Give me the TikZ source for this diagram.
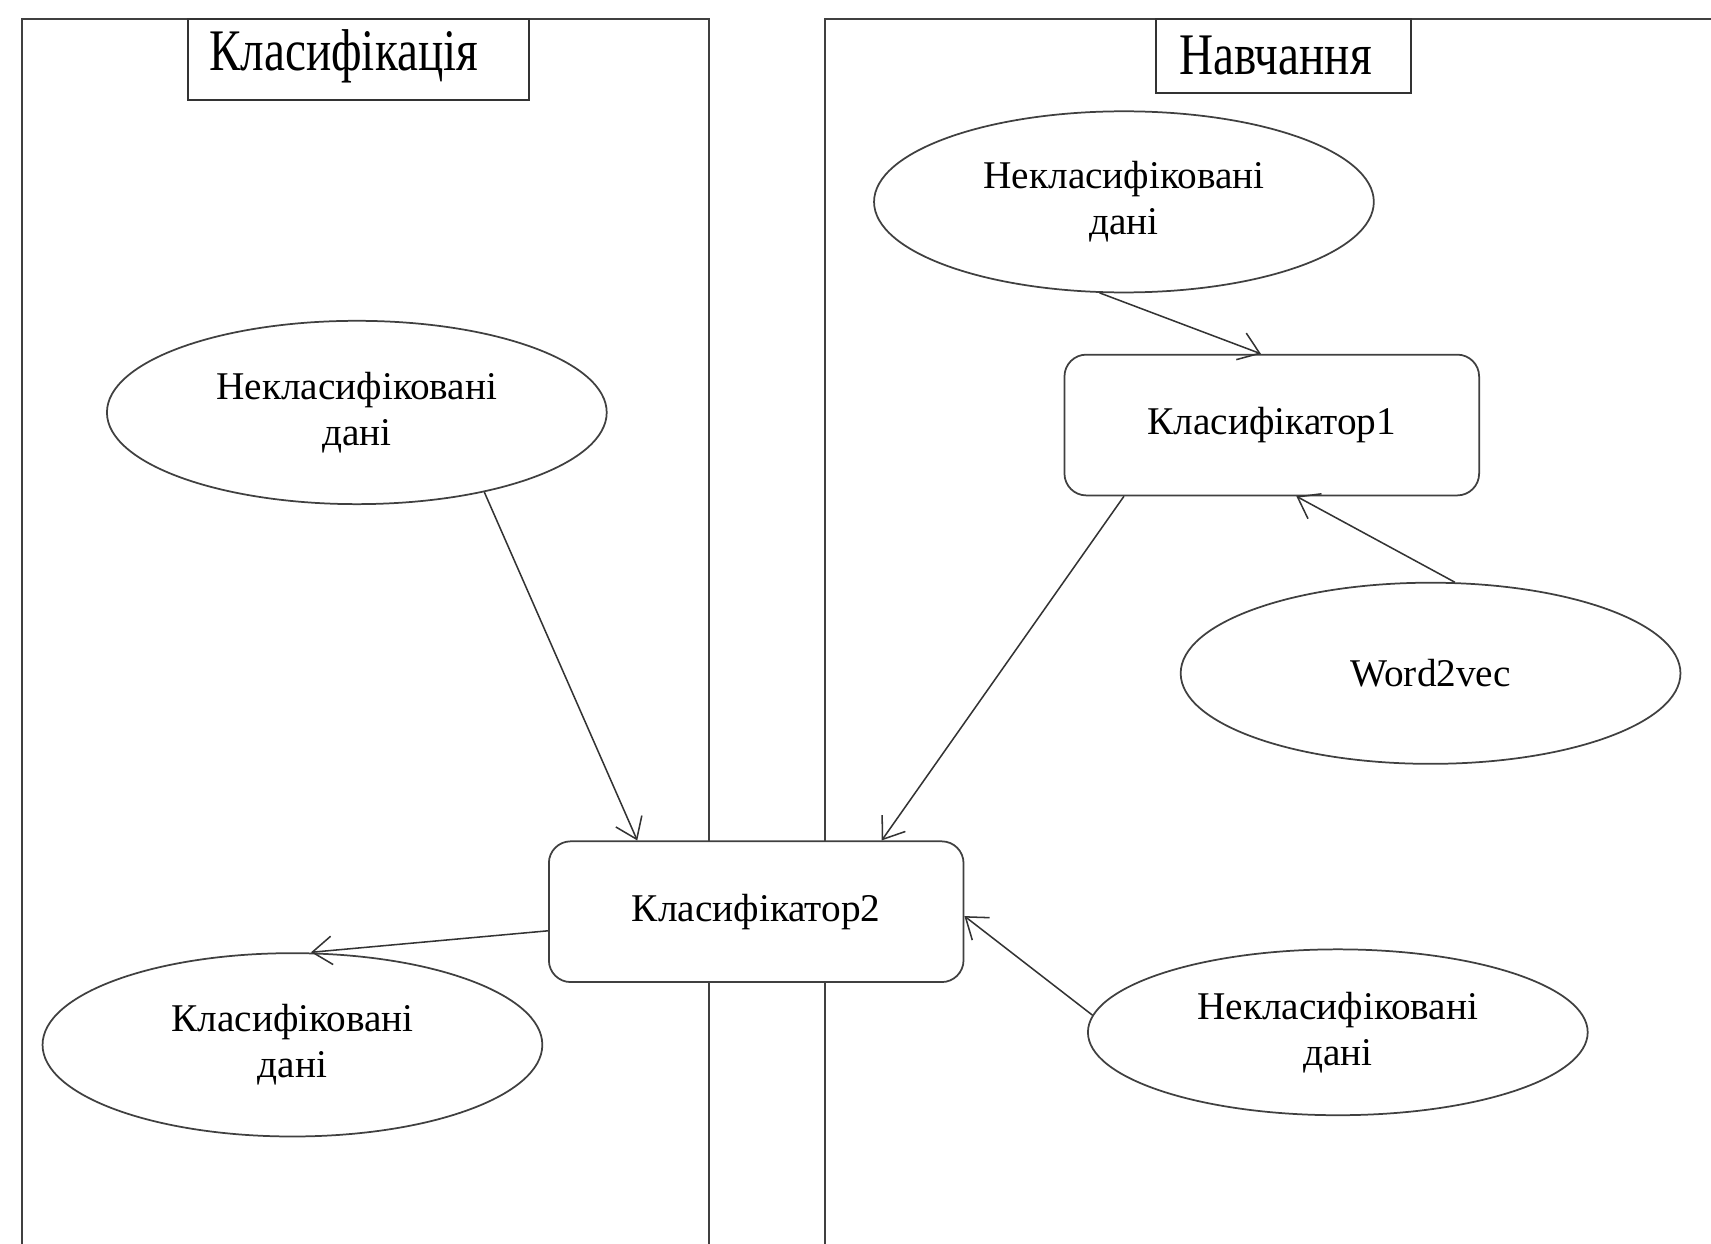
\documentclass[tikz,border=0pt]{standalone}
\usepackage{fontspec}
\setmainfont{Liberation Serif}
\usetikzlibrary{shapes.geometric,arrows.meta,calc}

\begin{document}
\begin{tikzpicture}[x=0.5pt,y=-0.5pt,
  lane/.style={draw=black!75, line width=0.9pt},
  title/.style={draw=black!80, fill=white, line width=0.9pt, inner sep=0pt},
  titletext/.style={font=\fontsize{27}{30}\selectfont, inner sep=0pt},
  data/.style={ellipse, draw=black!75, fill=white, line width=0.8pt,
    minimum width=229pt, minimum height=83pt, inner sep=0pt, align=center,
    font=\fontsize{18}{21}\selectfont},
  proc/.style={rectangle, rounded corners=10pt, draw=black!75, fill=white,
    line width=0.8pt, minimum width=190pt, minimum height=64.5pt, inner sep=0pt,
    font=\fontsize{18}{21}\selectfont},
  flow/.style={draw=black!80, line width=0.7pt,
    -{Straight Barb[length=9pt,width=13pt]}}
]
\useasboundingbox (0,0) rectangle (1568,1140);

% swimlanes
\draw[lane] (20,1140) -- (20,17) -- (650,17) -- (650,1140);
\draw[lane] (756,1140) -- (756,17) -- (1570,17);

% lane titles
\node[title, minimum width=156.5pt, minimum height=37.5pt] (tl) at (328.5,54.5) {};
\node[titletext] (tltext) at (315,52) {\scalebox{0.8}[1]{Класифікація}};
\node[title, minimum width=117pt, minimum height=34pt] (tr) at (1176,51) {};
\node[titletext] (trtext) at (1169,51) {\scalebox{0.8}[1]{Навчання}};

% training lane
\node[data] (e1) at (1030,185) {Некласифіковані\\дані};
\node[proc] (k1) at (1165.5,389.5) {Класифікатор1};
\node[data] (w2v) at (1311,617) {Word2vec};
\node[data, minimum height=76pt] (e3) at (1226,946) {Некласифіковані\\дані};

% classification lane
\node[data, minimum height=84pt] (e2) at (327,378) {Некласифіковані\\дані};
\node[data, minimum height=84pt] (e4) at (268,957.5) {Класифіковані\\дані};
\node[proc] (k2) at (693,835.5) {Класифікатор2};

% connectors
\draw[flow] (e1.255) -- ([xshift=-5pt]k1.north);
\draw[flow] (w2v.75.6) -- ([xshift=11.25pt]k1.south);
\draw[flow] ([xshift=-67.75pt]k1.south) -- ([xshift=57.5pt]k2.north);
\draw[flow] (e2.328) -- ([xshift=-54.5pt]k2.north);
\draw[flow] (e3.176) -- ([yshift=-2pt]k2.east);
\draw[flow] ([yshift=-8.75pt]k2.west) -- ([xshift=8.5pt]e4.north);
\end{tikzpicture}
\end{document}
